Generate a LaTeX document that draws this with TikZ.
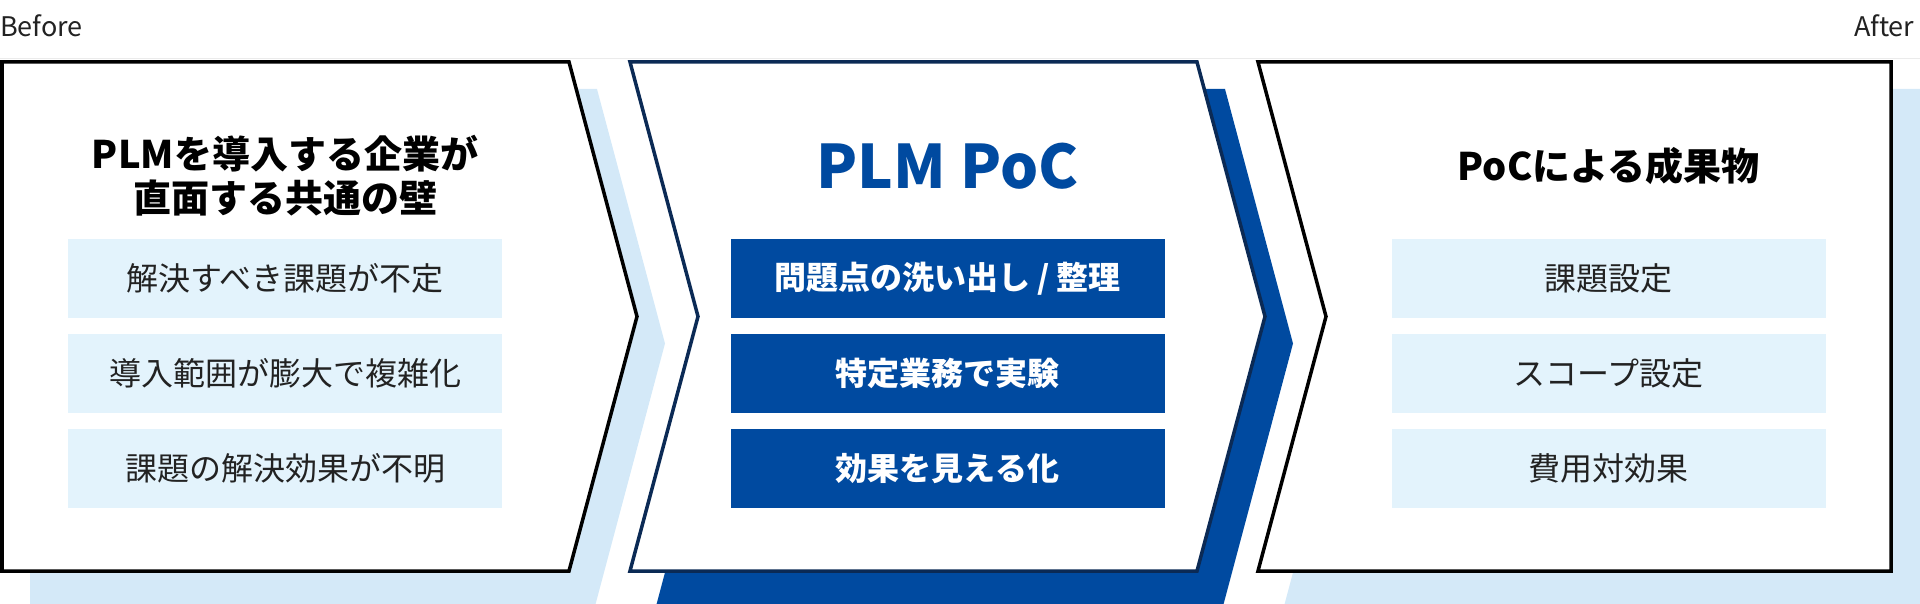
\documentclass[tikz,border=0pt]{standalone}
\usepackage{fontspec}
\setmainfont{Noto Sans CJK JP}
\usetikzlibrary{positioning}
\definecolor{paleblue}{HTML}{E3F3FC}
\definecolor{shadeblue}{HTML}{D4E9F8}
\definecolor{deepblue}{HTML}{004AA0}
\definecolor{navy}{HTML}{0B2A55}
\definecolor{ink}{HTML}{222222}
\definecolor{rulegray}{HTML}{EBEBEB}

\begin{document}
\begin{tikzpicture}[x=1pt, y=-1pt, node distance=15.5pt,
	panel/.style={fill=white, line width=3.5pt, line join=miter},
	item/.style={minimum width=434pt, minimum height=79pt, inner sep=0pt},
	lightitem/.style={item, fill=paleblue, text=ink, font=\fontsize{32}{38}\selectfont},
	darkitem/.style={item, fill=deepblue, text=white, font=\fontsize{32}{38}\selectfont\bfseries},
	heading/.style={font=\fontsize{38}{44}\selectfont\bfseries, align=center, inner sep=0pt},
	tag/.style={font=\fontsize{27}{32}\selectfont, text=ink, inner sep=0pt}]
	\useasboundingbox (0,0) rectangle (1920,604);

	\draw[rulegray, line width=1.5pt] (0,58.5) -- (1920,58.5);

	\fill[shadeblue] (30,89) -- (597,89) -- (665,343.5) -- (590,625) -- (30,625) -- cycle;
	\fill[deepblue]  (658,89) -- (1225,89) -- (1293,343.5) -- (1218,625) -- (651,625) -- (726,343.5) -- cycle;
	\fill[shadeblue] (1286,89) -- (1950,89) -- (1950,625) -- (1279,625) -- (1354,343.5) -- cycle;

	\draw[panel, draw=black] (2,62) -- (569,62) -- (637,316.5) -- (569,571) -- (2,571) -- cycle;
	\draw[panel, draw=navy]  (630,62) -- (1197,62) -- (1265,316.5) -- (1197,571) -- (630,571) -- (698,316.5) -- cycle;
	\draw[panel, draw=black] (1258,62) -- (1891,62) -- (1891,571) -- (1258,571) -- (1326,316.5) -- cycle;

	\node[tag, anchor=base west] (before) at (0,37)    {Before};
	\node[tag, anchor=base west] (after)  at (1854,37) {After};

	\node[heading]                                   (walls)   at (285,176)   {PLMを導入する企業が\\直面する共通の壁};
	\node[heading, text=deepblue, font=\fontsize{60}{70}\selectfont\bfseries] (poc) at (947.5,166) {PLM PoC};
	\node[heading]                                   (results) at (1608.5,166) {PoCによる成果物};

	\node[lightitem] (issueone)   at (285,278.5)        {解決すべき課題が不定};
	\node[lightitem] (issuetwo)   [below=of issueone]   {導入範囲が膨大で複雑化};
	\node[lightitem] (issuethree) [below=of issuetwo]   {課題の解決効果が不明};

	\node[darkitem]  (stepone)    at (947.5,278.5)      {問題点の洗い出し / 整理};
	\node[darkitem]  (steptwo)    [below=of stepone]    {特定業務で実験};
	\node[darkitem]  (stepthree)  [below=of steptwo]    {効果を見える化};

	\node[lightitem] (outone)     at (1608.5,278.5)     {課題設定};
	\node[lightitem] (outtwo)     [below=of outone]     {スコープ設定};
	\node[lightitem] (outthree)   [below=of outtwo]     {費用対効果};
\end{tikzpicture}
\end{document}
